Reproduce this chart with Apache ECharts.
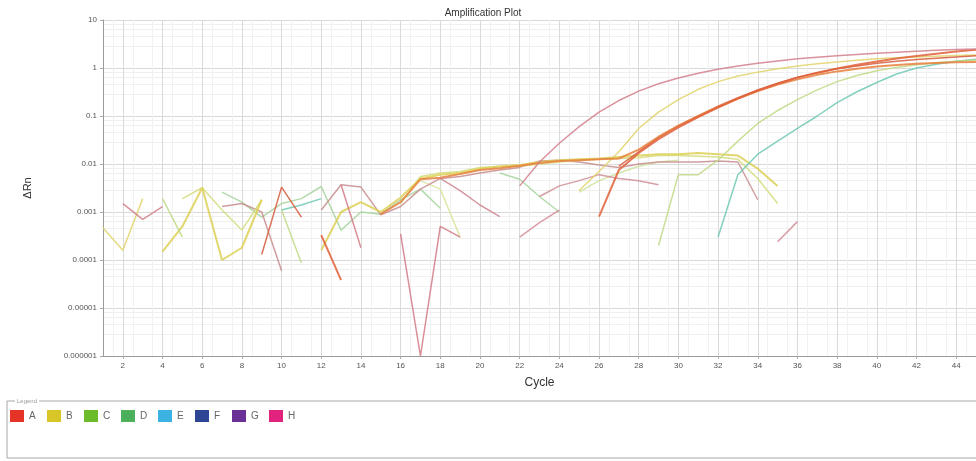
<!DOCTYPE html>
<html>
<head>
<meta charset="utf-8">
<title>Amplification Plot</title>
<script src="https://cdn.jsdelivr.net/npm/echarts@6/dist/echarts.min.js"></script>
<style>
  html, body { margin: 0; padding: 0; background: #fff; }
  #chart { width: 976px; height: 461px; }
</style>
</head>
<body>
<div id="chart"></div>
<script>
// cycle ticks shown on the x axis
const xTickCycles = [2, 4, 6, 8, 10, 12, 14, 16, 18, 20, 22, 24, 26, 28, 30, 32, 34, 36, 38, 40, 42, 44];

// legend (wells)
const legendNames = ['A', 'B', 'C', 'D', 'E', 'F', 'G', 'H'];
const legendColors = ['#e53427', '#d8c628', '#6cbb2c', '#4caf5a', '#3cb2e2', '#2e4596', '#6b3096', '#e2237e'];

// [cycle, deltaRn] ; a null value breaks the trace
const curveH = [[2, .0015], [3, .0007], [4, .0013], [5, null], [22, .0035], [23, .011], [24, .027], [25, .06], [26, .12], [27, .21], [28, .33], [29, .47], [30, .62], [31, .78], [32, .94], [33, 1.1], [34, 1.25], [35, 1.4], [36, 1.55], [37, 1.68], [38, 1.8], [39, 1.92], [40, 2.03], [41, 2.13], [42, 2.23], [43, 2.33], [44, 2.42], [45, 2.5]];
const curveB = [[1, .00047], [2, .00016], [3, .0019], [4, null], [25, .0028], [26, .007], [27, .018], [28, .055], [29, .12], [30, .22], [31, .36], [32, .52], [33, .68], [34, .82], [35, .96], [36, 1.1], [37, 1.22], [38, 1.34], [39, 1.45], [40, 1.55], [41, 1.63], [42, 1.7], [43, 1.76], [44, 1.82], [45, 1.87]];
const curveA1 = [[12, .00033], [13, .000038], [14, null], [26, .0008], [27, .0075], [28, .017], [29, .033], [30, .058], [31, .095], [32, .15], [33, .23], [34, .34], [35, .47], [36, .63], [37, .8], [38, .98], [39, 1.17], [40, 1.37], [41, 1.57], [42, 1.78], [43, 1.98], [44, 2.2], [45, 2.4]];
const curveA2 = [[15, .0009], [16, .0016], [17, .0048], [18, .0052], [19, .0062], [20, .0075], [21, .0082], [22, .0092], [23, .0105], [24, .0115], [25, .012], [26, .0125], [27, .013], [28, .02], [29, .037], [30, .063], [31, .1], [32, .155], [33, .23], [34, .33], [35, .45], [36, .58], [37, .72], [38, .85], [39, .97], [40, 1.07], [41, 1.15], [42, 1.22], [43, 1.27], [44, 1.31], [45, 1.34]];
const curveA3 = [[9, .00013], [10, .0033], [11, .00078], [12, null], [27, .009], [28, .018], [29, .036], [30, .062], [31, .1], [32, .16], [33, .24], [34, .35], [35, .48], [36, .64], [37, .8], [38, .96], [39, 1.1], [40, 1.25], [41, 1.38], [42, 1.5], [43, 1.6], [44, 1.7], [45, 1.8]];
const curveC = [[4, .0019], [5, .0003], [6, null], [10, .0011], [11, .000087], [12, null], [29, .0002], [30, .006], [31, .006], [32, .012], [33, .03], [34, .07], [35, .13], [36, .22], [37, .35], [38, .52], [39, .7], [40, .88], [41, 1.03], [42, 1.17], [43, 1.28], [44, 1.38], [45, 1.46]];
const curveE = [[10, .0011], [11, .0014], [12, .0019], [13, null], [32, .0003], [33, .006], [34, .016], [35, .03], [36, .055], [37, .1], [38, .19], [39, .32], [40, .5], [41, .75], [42, 1.0], [43, 1.2], [44, 1.38], [45, 1.52]];
const platB = [[4, .00015], [5, .0005], [6, .0032], [7, .0001], [8, .00018], [9, .0018], [10, null], [12, .00016], [13, .001], [14, .0016], [15, .001], [16, .002], [17, .005], [18, .006], [19, .0065], [20, .008], [21, .009], [22, .0095], [23, .011], [24, .012], [25, .0125], [26, .013], [27, .014], [28, .015], [29, .016], [30, .016], [31, .017], [32, .016], [33, .015], [34, .008], [35, .0035]];
const platD = [[5, .0019], [6, .0032], [7, .0011], [8, .00042], [9, .0018], [10, null], [16, .0015], [17, .0055], [18, .0065], [19, .007], [20, .0085], [21, .0088], [22, .009], [23, .01], [24, .011], [25, .012], [26, .0125], [27, .013], [28, .0135], [29, .015], [30, .015], [31, .0145], [32, .014], [33, .0125], [34, .005], [35, .0015]];
const platG = [[7, .0013], [8, .0015], [9, .001], [10, .00006], [11, null], [12, .0011], [13, .0037], [14, .0033], [15, .00087], [16, .0013], [17, .003], [18, .005], [19, .0055], [20, .0065], [21, .0075], [22, .0085], [23, .0115], [24, .012], [25, .011], [26, .0095], [27, .0085], [28, .01], [29, .011], [30, .011], [31, .011], [32, .0115], [33, .011], [34, .0018]];
const noiseD = [[7, .0026], [8, .0016], [9, .00078], [10, .0015], [11, .0019], [12, .0034], [13, .00042], [14, .001], [15, .0009], [16, .0018], [17, .003], [18, .0012], [19, null], [21, .0065], [22, .0048], [23, .0021], [24, .001]];
const pinkV = [[13, .0037], [14, .00018], [15, null], [16, .00035], [17, .000001], [18, .0005], [19, .0003]];
const pink2 = [[18, .005], [19, .0028], [20, .0014], [21, .0008]];
const pink3 = [[22, .0003], [23, .0006], [24, .0011], [25, null], [35, .00024], [36, .00063]];
const pink4 = [[23, .0021], [24, .0035], [25, .0045], [26, .006], [27, .005], [28, .0045], [29, .0037]];
const yDrop = [[17, .0045], [18, .003], [19, .0003]];
const pGreen = [[25, .0026], [26, .0045], [27, .0065], [28, .009], [29, .011], [30, .012]];

const traces = [
    {name: 'D', color: '#a6d39c', data: noiseD},
    {name: 'C', color: '#dce39a', data: yDrop},
    {name: 'C', color: '#cbe29c', data: pGreen},
    {name: 'G', color: '#c88c8e', data: platG},
    {name: 'D', color: '#d3dc7a', data: platD},
    {name: 'B', color: '#ddd055', data: platB, width: 2},
    {name: 'H', color: '#d47a86', data: pinkV},
    {name: 'G', color: '#cf8590', data: pink2},
    {name: 'H', color: '#d38b96', data: pink3},
    {name: 'G', color: '#cf8c94', data: pink4},
    {name: 'E', color: '#6fc8b4', data: curveE},
    {name: 'C', color: '#c0d985', data: curveC},
    {name: 'B', color: '#e2d46a', data: curveB},
    {name: 'A', color: '#d65a3c', data: curveA3},
    {name: 'A', color: '#e8803e', data: curveA2, width: 2},
    {name: 'A', color: '#e0603a', data: curveA1, width: 2},
    {name: 'H', color: '#d27f8b', data: curveH},
    {name: 'F', color: '#2e4596', data: []}
];

const FONT = '"Liberation Sans", Arial, sans-serif';

const chart = echarts.init(document.getElementById('chart'), null, {renderer: 'canvas'});

function legendGraphics() {
    const items = [
        {
            type: 'rect', shape: {x: 7, y: 401, width: 990, height: 57},
            style: {fill: 'none', stroke: '#a8a8a8', lineWidth: 1}, silent: true
        },
        {
            type: 'text', x: 15, y: 398,
            style: {text: 'Legend', font: '6px ' + FONT, fill: '#999', backgroundColor: '#fff', padding: [0, 2]},
            silent: true
        }
    ];
    legendNames.forEach((n, i) => {
        const x = 10 + i * 37;
        items.push({type: 'rect', shape: {x: x, y: 410, width: 14, height: 12}, style: {fill: legendColors[i]}, silent: true});
        items.push({
            type: 'text', x: x + 19, y: 416,
            style: {text: n, font: '10px ' + FONT, fill: '#666', verticalAlign: 'middle'}, silent: true
        });
    });
    return items;
}

const option = {
    animation: false,
    backgroundColor: '#fff',
    title: {
        text: 'Amplification Plot',
        left: 478, top: 3, textAlign: 'center',
        textStyle: {fontSize: 10, fontWeight: 'normal', color: '#333', fontFamily: FONT}
    },
    grid: {left: 103, right: -6, top: 20, bottom: 105},
    xAxis: {
        type: 'value', min: 1, max: 45, interval: 1,
        name: 'Cycle', nameLocation: 'middle', nameGap: 21,
        nameTextStyle: {fontSize: 12, color: '#333', fontFamily: FONT},
        axisLine: {onZero: false, lineStyle: {color: '#9a9a9a'}},
        axisTick: {show: true, length: 3, customValues: xTickCycles, lineStyle: {color: '#aaa'}},
        axisLabel: {customValues: xTickCycles, fontSize: 8, color: '#555', margin: 6, fontFamily: FONT},
        splitLine: {show: true, lineStyle: {color: '#dadada', width: 1}},
        minorTick: {show: false, splitNumber: 2},
        minorSplitLine: {show: true, lineStyle: {color: '#f1f1f1'}}
    },
    yAxis: {
        type: 'log', logBase: 10, min: 0.000001, max: 10, splitNumber: 7,
        name: 'ΔRn', nameLocation: 'middle', nameGap: 70,
        nameTextStyle: {fontSize: 11, color: '#333', fontFamily: FONT},
        axisLine: {show: true, lineStyle: {color: '#9a9a9a'}},
        axisTick: {show: true, length: 3, lineStyle: {color: '#aaa'}},
        axisLabel: {
            fontSize: 8, color: '#555', margin: 6, fontFamily: FONT,
            formatter: v => {
                const e = Math.round(Math.log10(v));
                return e >= 0 ? String(Math.pow(10, e)) : Math.pow(10, e).toFixed(-e);
            }
        },
        splitLine: {show: true, lineStyle: {color: '#d9d9d9'}},
        minorTick: {show: false, splitNumber: 5},
        minorSplitLine: {show: true, lineStyle: {color: '#f0f0f0'}}
    },
    series: traces.map(t => ({
        type: 'line',
        name: t.name,
        data: t.data,
        showSymbol: false,
        symbol: 'none',
        connectNulls: false,
        silent: true,
        itemStyle: {color: t.color},
        lineStyle: {color: t.color, width: t.width || 1.5, opacity: 0.85}
    })),
    graphic: legendGraphics()
};

chart.setOption(option);
</script>
</body>
</html>
